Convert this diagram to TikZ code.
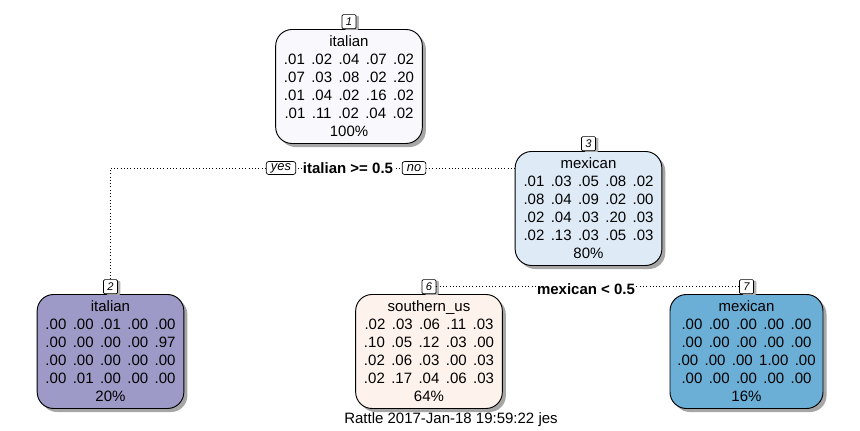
\documentclass[tikz,border=0pt]{standalone}
\usepackage{fontspec}
\setmainfont{Liberation Sans}
\usetikzlibrary{shadows}
\definecolor{rootfill}{RGB}{249,249,253}
\definecolor{itafill}{RGB}{158,154,200}
\definecolor{mexfill}{RGB}{222,235,247}
\definecolor{mexleaf}{RGB}{107,174,214}
\definecolor{soufill}{RGB}{253,242,236}
\newlength\colgap
\setlength\colgap{5.5pt}
\def\probs#1#2#3#4#5% Syntax: five class probabilities in one row
    {#1\hspace{\colgap}#2\hspace{\colgap}#3\hspace{\colgap}#4\hspace{\colgap}#5}
\tikzset{
  treenode/.style={draw=black, line width=0.8pt, rounded corners=14pt, align=center,
    minimum width=4.4cm, minimum height=3.42cm, inner sep=2pt,
    font={\fontsize{12.8pt}{15.36pt}\selectfont},
    drop shadow={shadow xshift=3pt, shadow yshift=-3pt, fill=black!35, opacity=1}},
  numbox/.style={draw=black, fill=white, line width=0.6pt, rounded corners=1pt,
    minimum size=12pt, inner sep=0.5pt, anchor=south,
    font={\fontsize{9.5pt}{10pt}\selectfont\itshape},
    drop shadow={shadow xshift=2.5pt, shadow yshift=-1pt, fill=black!30, opacity=1}},
  answer/.style={draw=black, fill=white, line width=0.6pt, rounded corners=2pt,
    inner xsep=4pt, inner ysep=0.5pt, minimum height=11pt,
    font={\fontsize{11pt}{12pt}\selectfont\itshape}},
  splitlabel/.style={fill=white, inner sep=1pt,
    font={\fontsize{12.8pt}{15pt}\selectfont\bfseries}},
  branch/.style={dotted, line width=0.8pt}
}
\begin{document}
\begin{tikzpicture}[x=0.03cm, y=-0.03cm]
  \useasboundingbox (0,0) rectangle (860,431);

  %ROOT
  \node[treenode, fill=rootfill] (n1) at (349,86.5) {italian\\
    \probs{.01}{.02}{.04}{.07}{.02}\\
    \probs{.07}{.03}{.08}{.02}{.20}\\
    \probs{.01}{.04}{.02}{.16}{.02}\\
    \probs{.01}{.11}{.02}{.04}{.02}\\
    100\%};
  \node[numbox] (l1) at (n1.north) {1};

  %INNER NODE
  \node[treenode, fill=mexfill] (n3) at (588.5,208.5) {mexican\\
    \probs{.01}{.03}{.05}{.08}{.02}\\
    \probs{.08}{.04}{.09}{.02}{.00}\\
    \probs{.02}{.04}{.03}{.20}{.03}\\
    \probs{.02}{.13}{.03}{.05}{.03}\\
    80\%};
  \node[numbox] (l3) at (n3.north) {3};

  %LEAVES
  \node[treenode, fill=itafill] (n2) at (110.5,351.5) {italian\\
    \probs{.00}{.00}{.01}{.00}{.00}\\
    \probs{.00}{.00}{.00}{.00}{.97}\\
    \probs{.00}{.00}{.00}{.00}{.00}\\
    \probs{.00}{.01}{.00}{.00}{.00}\\
    20\%};
  \node[numbox] (l2) at (n2.north) {2};

  \node[treenode, fill=soufill] (n6) at (429,351.5) {southern\_us\\
    \probs{.02}{.03}{.06}{.11}{.03}\\
    \probs{.10}{.05}{.12}{.03}{.00}\\
    \probs{.02}{.06}{.03}{.00}{.03}\\
    \probs{.02}{.17}{.04}{.06}{.03}\\
    64\%};
  \node[numbox] (l6) at (n6.north) {6};

  \node[treenode, fill=mexleaf, minimum width=4.59cm] (n7) at (746.5,351.5) {mexican\\
    \probs{.00}{.00}{.00}{.00}{.00}\\
    \probs{.00}{.00}{.00}{.00}{.00}\\
    \probs{.00}{.00}{.00}{1.00}{.00}\\
    \probs{.00}{.00}{.00}{.00}{.00}\\
    16\%};
  \node[numbox] (l7) at (n7.north) {7};

  %BRANCHES
  \coordinate (s1) at (348,168);
  \draw[branch] (l2.north) |- (s1) -- (s1 -| n3.west);
  \draw[branch] (l6.east) -- (l7.west);

  %SPLIT LABELS
  \node[answer] (yes) at (281,168) {yes};
  \node[splitlabel] (c1) at (348,168) {italian >= 0.5};
  \node[answer] (no) at (414,168) {no};
  \node[splitlabel] (c3) at (586,289) {mexican < 0.5};

  \node[font={\fontsize{12.8pt}{15pt}\selectfont}] (stamp) at (451,420) {Rattle 2017-Jan-18 19:59:22 jes};
\end{tikzpicture}
\end{document}
